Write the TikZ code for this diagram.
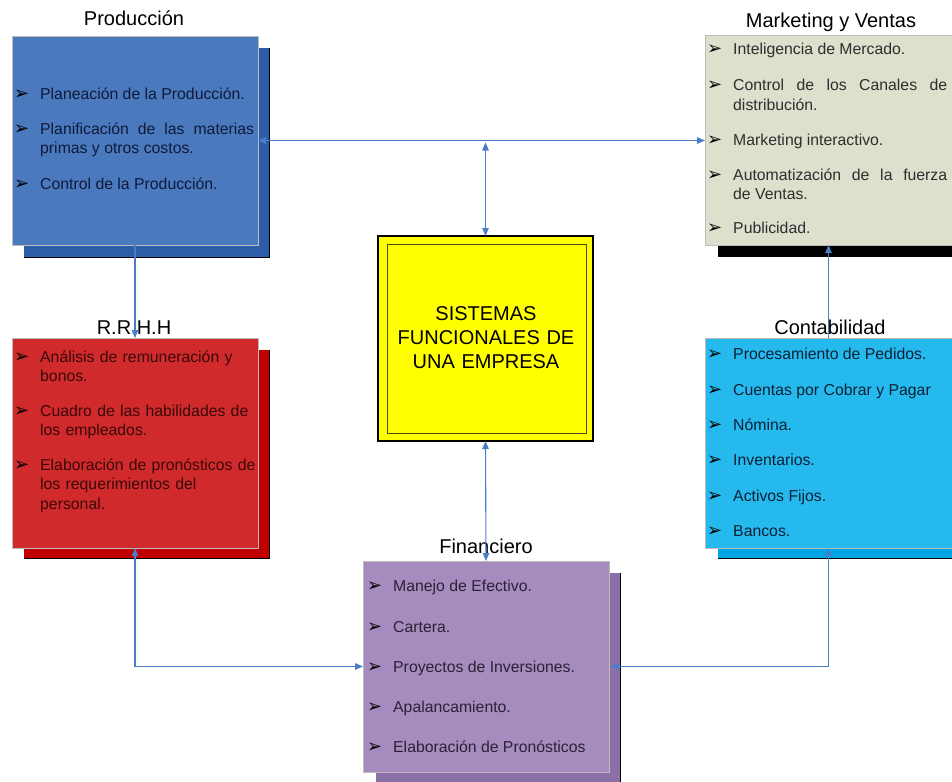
\documentclass[tikz,border=0pt]{standalone}
\usepackage{fontspec}
\setmainfont{Liberation Sans}
\newfontfamily\dingfont{DejaVu Sans}
\usetikzlibrary{arrows.meta}
\hyphenpenalty=10000
\exhyphenpenalty=10000

% palette
\definecolor{linkblue}{HTML}{4A7CC8}
\definecolor{prodfront}{HTML}{4A79BE}
\definecolor{prodback}{HTML}{2B5DA8}
\definecolor{prodtext}{HTML}{0F1A3A}
\definecolor{mktfront}{HTML}{DDE0CD}
\definecolor{mkttext}{HTML}{2E2E2E}
\definecolor{rrhhfront}{HTML}{D02A2C}
\definecolor{rrhhback}{HTML}{C00000}
\definecolor{rrhhtext}{HTML}{3B0808}
\definecolor{confront}{HTML}{25B9EE}
\definecolor{conback}{HTML}{00A5E5}
\definecolor{context}{HTML}{0B2235}
\definecolor{finfront}{HTML}{A68BBE}
\definecolor{finback}{HTML}{8B6FA8}
\definecolor{fintext}{HTML}{2B2236}
\definecolor{rim}{HTML}{BDBDBD}
\definecolor{corefill}{HTML}{FFFF00}
\definecolor{coreframe}{HTML}{4A4A20}

\tikzset{
  >={Triangle[length=8pt,width=6.5pt]},
  panel/.style={draw=rim, line width=0.8pt, inner sep=0pt, outer sep=0pt},
  backpanel/.style={inner sep=0pt, outer sep=0pt},
  heading/.style={font=\fontsize{20}{24}\selectfont, inner sep=0pt, anchor=base},
  entry/.style={font=\fontsize{15.8}{19.5}\selectfont, inner sep=0pt,
                text width=214pt, align=justify, anchor=base west},
  raggedentry/.style={entry, text width=232pt, align=left},
  bulletmark/.style={font=\dingfont\fontsize{18}{18}\selectfont, inner sep=0pt, anchor=base west},
  conn/.style={draw=linkblue, line width=1.1pt},
}

% one list entry: name, x of the text, baseline y, text
\newcommand\entryline[4]{%
  \node[bulletmark] (#1m) at (#2-26,#3) {➢};
  \node[entry] (#1) at (#2,#3) {#4};}
\newcommand\raggedline[4]{%
  \node[bulletmark] (#1m) at (#2-26,#3) {➢};
  \node[raggedentry] (#1) at (#2,#3) {#4};}

\begin{document}
\begin{tikzpicture}[x=1pt,y=-1pt]
\useasboundingbox (0,0) rectangle (952,781);
\clip (0,0) rectangle (952,781);

% ---------- back panels (offset shadows) ----------
\node[backpanel, fill=prodback, minimum width=245pt, minimum height=209pt, anchor=north west] (prodsh) at (24,48) {};
\draw[black, line width=0.9pt] (prodsh.north east) -- (prodsh.south east) -- (prodsh.south west);

\node[backpanel, fill=black, minimum width=240pt, minimum height=210pt, anchor=north west] (mktsh) at (718,47) {};

\node[backpanel, fill=rrhhback, minimum width=245pt, minimum height=208pt, anchor=north west] (rrhhsh) at (24,350) {};
\draw[black, line width=0.9pt] (rrhhsh.north east) -- (rrhhsh.south east) -- (rrhhsh.south west);

\node[backpanel, fill=conback, minimum width=240pt, minimum height=208pt, anchor=north west] (consh) at (718,350) {};
\draw[black, line width=0.9pt] (consh.south west) -- (consh.south east);

\node[backpanel, fill=finback, minimum width=244pt, minimum height=215pt, anchor=north west] (finsh) at (376,573) {};
\draw[black, line width=0.9pt] (finsh.north east) -- (finsh.south east);

% ---------- front panels ----------
\node[panel, fill=prodfront, minimum width=246pt, minimum height=209pt, anchor=north west] (prod) at (12,36) {};
\node[panel, fill=mktfront, minimum width=247pt, minimum height=210pt, anchor=north west] (mkt) at (705,35) {};
\node[panel, fill=rrhhfront, minimum width=246pt, minimum height=210pt, anchor=north west] (rrhh) at (12,338) {};
\node[panel, fill=confront, minimum width=247pt, minimum height=210pt, anchor=north west] (con) at (705,338) {};
\node[panel, fill=finfront, minimum width=246pt, minimum height=211pt, anchor=north west] (fin) at (363,561) {};

% ---------- central block ----------
\node[draw=black, line width=1.2pt, fill=corefill, inner sep=0pt, outer sep=0pt,
      minimum width=215pt, minimum height=205pt, anchor=north west] (core) at (378,236) {};
\node[draw=coreframe, line width=1pt, inner sep=0pt,
      minimum width=199pt, minimum height=189pt, anchor=north west] (coreframe) at (387,244) {};
\node[font=\fontsize{20}{24.3}\selectfont, text width=215pt, align=center, inner sep=0pt, anchor=base]
  (coretext) at (486,320) {SISTEMAS\\FUNCIONALES DE\\UNA EMPRESA};

% ---------- headings ----------
\node[heading] (prodtitle) at (134,26) {Producción};
\node[heading] (mkttitle) at (831,28) {Marketing y Ventas};
\node[heading] (rrhhtitle) at (134,334) {R.R.H.H};
\node[heading] (contitle) at (830,334) {Contabilidad};
\node[heading] (fintitle) at (486,553) {Financiero};

% ---------- lists ----------
\begin{scope}[entry/.append style={text=prodtext}]
\entryline{p1}{40}{100}{Planeación de la Producción.}
\entryline{p2}{40}{134}{Planificación de las materias\linebreak primas y otros costos.}
\entryline{p3}{40}{189}{Control de la Producción.}
\end{scope}

\begin{scope}[entry/.append style={text=mkttext}]
\entryline{m1}{733}{55}{Inteligencia de Mercado.}
\entryline{m2}{733}{91}{Control de los Canales de\linebreak distribución.}
\entryline{m3}{733}{145}{Marketing interactivo.}
\entryline{m4}{733}{180}{Automatización de la fuerza\linebreak de Ventas.}
\entryline{m5}{733}{233}{Publicidad.}
\end{scope}

\begin{scope}[entry/.append style={text=rrhhtext}]
\raggedline{r1}{40}{362}{Análisis de remuneración y\\bonos.}
\raggedline{r2}{40}{416}{Cuadro de las habilidades de\\los empleados.}
\raggedline{r3}{40}{470}{Elaboración de pronósticos de\\los requerimientos del\\personal.}
\end{scope}

\begin{scope}[entry/.append style={text=context}]
\entryline{c1}{733}{359}{Procesamiento de Pedidos.}
\entryline{c2}{733}{395}{Cuentas por Cobrar y Pagar}
\entryline{c3}{733}{430}{Nómina.}
\entryline{c4}{733}{465}{Inventarios.}
\entryline{c5}{733}{501}{Activos Fijos.}
\entryline{c6}{733}{536}{Bancos.}
\end{scope}

\begin{scope}[entry/.append style={text=fintext}]
\entryline{f1}{393}{591}{Manejo de Efectivo.}
\entryline{f2}{393}{632}{Cartera.}
\entryline{f3}{393}{672}{Proyectos de Inversiones.}
\entryline{f4}{393}{712}{Apalancamiento.}
\entryline{f5}{393}{752}{Elaboración de Pronósticos}
\end{scope}

% ---------- connectors ----------
\coordinate (hub) at (core.north |- prod.east);
\draw[conn,<->] (prod.east) -- (prod.east -| mkt.west);
\draw[conn,<->] ([yshift=-2pt]hub) -- (core.north);
\draw[conn,->] (prod.south) -- (rrhh.north);
\draw[conn,->] (con.north) -- (con.north |- mkt.south);
\draw[conn,<->] (core.south) -- (fin.north);
\draw[conn,<->] (rrhh.south) |- (fin.west);
\draw[conn,<->] (con.south) |- ([xshift=2pt]fin.east);
\end{tikzpicture}
\end{document}
